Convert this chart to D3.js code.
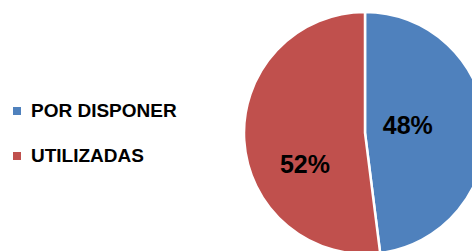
<!DOCTYPE html>
<html>
<head>
<meta charset="utf-8">
<script src="https://cdn.jsdelivr.net/npm/d3@7"></script>
<style>
  html, body { margin: 0; padding: 0; background: #fff; overflow: hidden; }
</style>
</head>
<body>
<div id="chart"></div>
<script>
// Chart data
const categories = ['POR DISPONER', 'UTILIZADAS'];
const values = [48, 52];
const colors = ['#4F81BD', '#C0504D'];

const width = 472;
const height = 251;

const svg = d3.select('#chart')
    .append('svg')
    .attr('width', width)
    .attr('height', height);

// Pie
const cx = 365, cy = 133, radius = 121;
// label placement per slice: distance (fraction of radius) and angle shift from mid-angle (deg)
const labelDist = [0.36, 0.56];
const labelShift = [-7, -24];

const pie = d3.pie()
    .sort(null)
    .value(d => d.value);

const arc = d3.arc()
    .innerRadius(0)
    .outerRadius(radius);

const data = categories.map((c, i) => ({ label: c, value: values[i], color: colors[i] }));
const total = d3.sum(values);

const g = svg.append('g')
    .attr('transform', `translate(${cx},${cy})`);

g.selectAll('.slice')
    .data(pie(data))
    .enter().append('path')
    .attr('class', 'slice')
    .attr('d', arc)
    .attr('fill', d => d.data.color)
    .attr('stroke', '#fff')
    .attr('stroke-width', 2.5);

// Percentage labels
g.selectAll('.pct')
    .data(pie(data))
    .enter().append('text')
    .attr('class', 'pct')
    .attr('transform', (d, i) => {
        const a = (d.startAngle + d.endAngle) / 2 + labelShift[i] * Math.PI / 180;
        const r = radius * labelDist[i];
        return `translate(${r * Math.sin(a)},${-r * Math.cos(a)})`;
    })
    .attr('text-anchor', 'middle')
    .attr('dy', '0.36em')
    .style('font-family', '"Liberation Sans", Arial, sans-serif')
    .style('font-size', '25px')
    .style('font-weight', 'bold')
    .attr('fill', '#000')
    .text(d => `${Math.round(d.data.value / total * 100)}%`);

// Legend
const legend = svg.append('g')
    .attr('transform', 'translate(13, 107)');

legend.selectAll('.legend-item')
    .data(data)
    .enter().append('g')
    .attr('class', 'legend-item')
    .attr('transform', (d, i) => `translate(0, ${i * 45})`)
    .each(function(d) {
        const item = d3.select(this);
        item.append('rect')
            .attr('width', 8)
            .attr('height', 8)
            .attr('fill', d.color);
        item.append('text')
            .attr('x', 18)
            .attr('y', 10)
            .style('font-family', '"Liberation Sans", Arial, sans-serif')
            .style('font-size', '19px')
            .style('font-weight', 'bold')
            .attr('fill', '#000')
            .text(d.label);
    });
</script>
</body>
</html>
